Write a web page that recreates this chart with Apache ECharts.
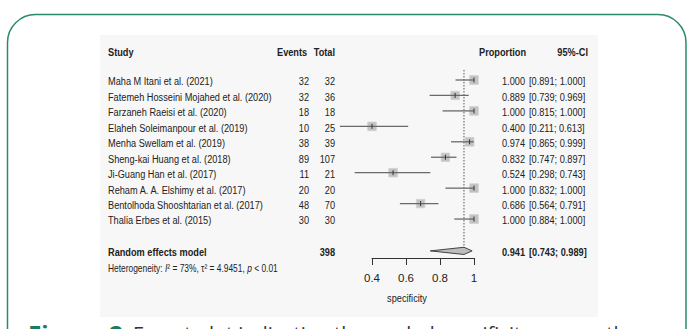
<!DOCTYPE html>
<html><head><meta charset="utf-8">
<script src="https://cdn.jsdelivr.net/npm/echarts@6/dist/echarts.min.js"></script>
<style>html,body{margin:0;padding:0;background:#fff}#c{width:687px;height:329px}</style>
</head><body><div id="c"></div><script>
const studies = [
  'Maha M Itani et al. (2021)',
  'Fatemeh Hosseini Mojahed et al. (2020)',
  'Farzaneh Raeisi et al. (2020)',
  'Elaheh Soleimanpour et al. (2019)',
  'Menha Swellam et al. (2019)',
  'Sheng-kai Huang et al. (2018)',
  'Ji-Guang Han et al. (2017)',
  'Reham A. A. Elshimy et al. (2017)',
  'Bentolhoda Shooshtarian et al. (2017)',
  'Thalia Erbes et al. (2015)'
];
const events = [32, 32, 18, 10, 38, 89, 11, 20, 48, 30];
const totals = [32, 36, 18, 25, 39, 107, 21, 20, 70, 30];
const proportion = [1.000, 0.889, 1.000, 0.400, 0.974, 0.832, 0.524, 1.000, 0.686, 1.000];
const lower = [0.891, 0.739, 0.815, 0.211, 0.865, 0.747, 0.298, 0.832, 0.564, 0.884];
const upper = [1.000, 0.969, 1.000, 0.613, 0.999, 0.897, 0.743, 1.000, 0.791, 1.000];
const weights = [10.3, 9.4, 10.2, 9.9, 10.3, 9.5, 10.0, 10.2, 9.6, 10.3];
const pooled = { est: 0.941, lower: 0.743, upper: 0.989, total: 398 };
const heterogeneity = { I2: '73%', tau2: '4.9451', p: '< 0.01' };
const tickLabels = ['0.4', '0.6', '0.8', '1'];
const headers = ['Study', 'Events', 'Total', 'Proportion', '95%-CI'];

const fmt = v => v.toFixed(3);
const ci = (l, u) => '[' + fmt(l) + '; ' + fmt(u) + ']';

const F = '"Liberation Sans", Arial, sans-serif';
const FS = 11.5;
const SX = 0.8;
const TXT = '#222';
const HEAD_ROW = -1.8, RE_ROW = 11.06, HET_ROW = 12.1;
const X_STUDY = 108, X_EV = 309, X_TOT = 335, X_PROP = 525, X_CI = 529;

function t(x, y, text, align, bold) {
  return {
    type: 'text', x: x, y: y, scaleX: SX,
    style: { text: text, fill: TXT, font: (bold ? 'bold ' : '') + FS + 'px ' + F, align: align, verticalAlign: 'middle' }
  };
}

const chart = echarts.init(document.getElementById('c'), null, { renderer: 'svg' });

const option = {
  animation: false,
  backgroundColor: '#fff',
  graphic: [
    { type: 'rect', z: -20, shape: { x: 7.5, y: 14.5, width: 678.5, height: 400, r: 28 },
      style: { fill: 'none', stroke: '#2b8a6c', lineWidth: 1.5 } },
    { type: 'rect', z: -19, shape: { x: 100, y: 35, width: 498, height: 282 },
      style: { fill: '#f7f7f7' } },
    { type: 'text', x: 407, y: 298, scaleX: SX, style: { text: 'specificity', fill: TXT, font: FS + 'px ' + F, align: 'center', verticalAlign: 'middle' } },
    { type: 'text', x: 28, y: 333, style: {
        text: '{b|Figure 2:} {n|Forest plot indicating the pooled specificity among the}',
        verticalAlign: 'middle',
        rich: {
          b: { fontFamily: '"Open Sans", sans-serif', fontWeight: 'bold', fontSize: 24, fill: '#1c7c5c' },
          n: { fontFamily: '"Open Sans", sans-serif', fontSize: 20, fill: '#333' }
        } } }
  ],
  grid: [
    { left: 304, width: 170, top: 49.1, height: 247.2 },
    { left: 372, width: 102, top: 257, height: 1 }
  ],
  xAxis: [
    { gridIndex: 0, type: 'value', min: 0, max: 1, show: false },
    { gridIndex: 1, type: 'value', min: 0.4, max: 1, interval: 0.2, position: 'bottom',
      axisLine: { show: true, onZero: false, lineStyle: { color: '#333', width: 1 } },
      axisTick: { show: true, length: 7, lineStyle: { color: '#333', width: 1 } },
      axisLabel: { margin: 14, color: TXT, fontSize: FS, fontFamily: F,
        formatter: v => tickLabels[Math.round((v - 0.4) / 0.2)] },
      splitLine: { show: false } }
  ],
  yAxis: [
    { gridIndex: 0, type: 'value', inverse: true, min: -2, max: 14, show: false },
    { gridIndex: 1, type: 'value', show: false }
  ],
  series: [
    { // table text
      type: 'custom', xAxisIndex: 0, yAxisIndex: 0, silent: true,
      data: studies.map((s, i) => [0, i]),
      renderItem: function (params, api) {
        const i = params.dataIndex;
        const y = api.coord([0, api.value(1)])[1] + 1.5;
        return { type: 'group', children: [
          t(X_STUDY, y, studies[i], 'left'),
          t(X_EV, y, String(events[i]), 'right'),
          t(X_TOT, y, String(totals[i]), 'right'),
          t(X_PROP, y, fmt(proportion[i]), 'right'),
          t(X_CI, y, ci(lower[i], upper[i]), 'left')
        ] };
      }
    },
    { // headers and summary text
      type: 'custom', xAxisIndex: 0, yAxisIndex: 0, silent: true,
      data: [[0, 0]],
      renderItem: function (params, api) {
        const yh = api.coord([0, HEAD_ROW])[1];
        const yr = api.coord([0, RE_ROW])[1] + 1;
        const yt = api.coord([0, HET_ROW])[1] + 1;
        return { type: 'group', children: [
          t(X_STUDY, yh, headers[0], 'left', true),
          t(277, yh, headers[1], 'left', true),
          t(X_TOT, yh, headers[2], 'right', true),
          t(526, yh, headers[3], 'right', true),
          t(588, yh, headers[4], 'right', true),
          t(X_STUDY, yr, 'Random effects model', 'left', true),
          t(X_TOT, yr, String(pooled.total), 'right', true),
          t(X_PROP, yr, fmt(pooled.est), 'right', true),
          t(X_CI, yr, ci(pooled.lower, pooled.upper), 'left', true),
          { type: 'text', x: X_STUDY, y: yt, scaleX: SX, style: {
              text: '{n|Heterogeneity: }{i|I}{n|\u00b2 = ' + heterogeneity.I2 + ', \u03c4\u00b2 = ' + heterogeneity.tau2 + ', }{i|p}{n| ' + heterogeneity.p + '}',
              verticalAlign: 'middle', align: 'left',
              rich: {
                n: { fontFamily: F, fontSize: 10.5, fill: TXT },
                i: { fontFamily: F, fontSize: 10.5, fontStyle: 'italic', fill: TXT }
              } } }
        ] };
      }
    },
    { // reference dotted line at pooled estimate
      type: 'custom', xAxisIndex: 0, yAxisIndex: 0, silent: true, z: 1,
      data: [[pooled.est, RE_ROW]],
      renderItem: function (params, api) {
        const a = api.coord([api.value(0), -0.65]);
        const b = api.coord([api.value(0), api.value(1)]);
        return { type: 'line', shape: { x1: a[0], y1: a[1], x2: b[0], y2: b[1] },
          style: { stroke: '#555', lineWidth: 1, lineDash: [1.5, 1.5] } };
      }
    },
    { // study squares and CIs
      type: 'custom', xAxisIndex: 0, yAxisIndex: 0, silent: true, z: 3,
      data: studies.map((s, i) => [proportion[i], lower[i], upper[i], i, weights[i]]),
      renderItem: function (params, api) {
        const row = api.value(3);
        const p = api.coord([api.value(0), row]);
        const l = api.coord([api.value(1), row]);
        const u = api.coord([api.value(2), row]);
        const sz = 8.6 * Math.sqrt(api.value(4) / 10);
        return { type: 'group', children: [
          { type: 'rect', shape: { x: p[0] - sz / 2, y: p[1] - sz / 2, width: sz, height: sz },
            style: { fill: '#c3c3c3', stroke: '#d0d0d0', lineWidth: 0.8 } },
          { type: 'line', shape: { x1: l[0], y1: l[1], x2: u[0], y2: u[1] },
            style: { stroke: '#6a6a6a', lineWidth: 1.3 } },
          { type: 'line', shape: { x1: p[0], y1: p[1] - 2.5, x2: p[0], y2: p[1] + 2.5 },
            style: { stroke: '#333', lineWidth: 1 } }
        ] };
      }
    },
    { // pooled diamond
      type: 'custom', xAxisIndex: 0, yAxisIndex: 0, silent: true, z: 4,
      data: [[pooled.est, pooled.lower, pooled.upper, RE_ROW]],
      renderItem: function (params, api) {
        const row = api.value(3);
        const e = api.coord([api.value(0), row]);
        const l = api.coord([api.value(1), row]);
        const u = api.coord([api.value(2), row]);
        const h = 3.6;
        return { type: 'polygon', shape: { points: [[l[0], l[1]], [e[0], e[1] - h], [u[0], u[1]], [e[0], e[1] + h]] },
          style: { fill: '#bdbdbd', stroke: '#444', lineWidth: 1 } };
      }
    },
    { // invisible series for the visible axis grid
      type: 'scatter', xAxisIndex: 1, yAxisIndex: 1, data: [], silent: true
    }
  ]
};
chart.setOption(option);
</script></body></html>
